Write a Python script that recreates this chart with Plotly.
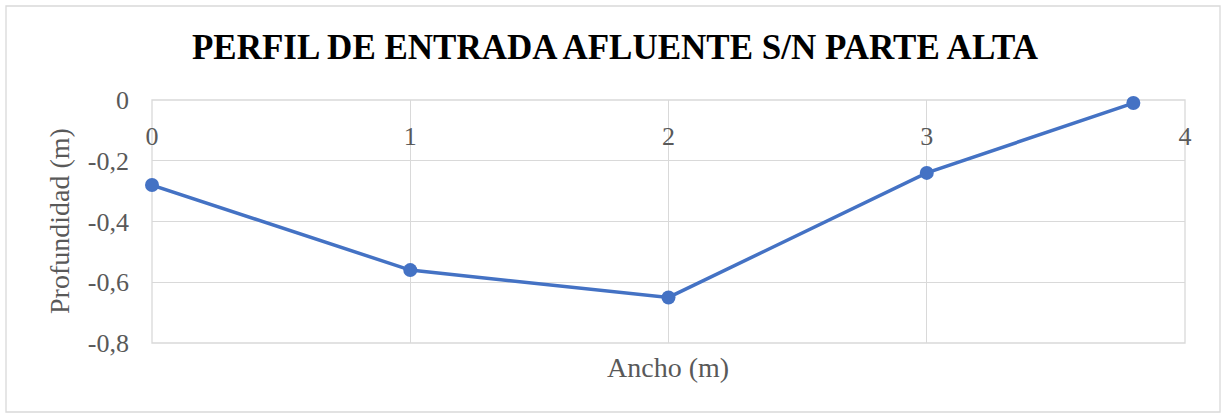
import plotly.graph_objects as go

# Perfil transversal: ancho (m) vs profundidad (m)
ancho = [0, 1, 2, 3, 3.8]
profundidad = [-0.28, -0.56, -0.65, -0.24, -0.01]

x_ticks = [0, 1, 2, 3, 4]
y_ticks = [0, -0.2, -0.4, -0.6, -0.8]
y_tick_labels = ["0", "-0,2", "-0,4", "-0,6", "-0,8"]

title_text = "PERFIL DE ENTRADA AFLUENTE S/N PARTE ALTA"
x_title = "Ancho (m)"
y_title = "Profundidad (m)"

serif = "Liberation Serif"
grid = "#d9d9d9"
label_gray = "#595959"
blue = "#4472C4"

# plot area in pixels
L, R, T, B = 152, 1185, 100, 343
W, H = R - L, B - T

fig = go.Figure(
    go.Scatter(
        x=ancho,
        y=profundidad,
        mode="lines+markers",
        line=dict(color=blue, width=3.5),
        marker=dict(color=blue, size=14),
        cliponaxis=False,
        showlegend=False,
    )
)

fig.update_layout(
    width=1222,
    height=413,
    margin=dict(l=L, r=1222 - R, t=T, b=413 - B),
    paper_bgcolor="white",
    plot_bgcolor="white",
    title=dict(
        text=title_text,
        font=dict(family=serif, size=35, color="black", weight="bold"),
        x=(615 - 0) / 1222,
        xanchor="center",
        y=1 - 47 / 413,
        yanchor="middle",
    ),
    xaxis=dict(
        range=[0, 4],
        tickvals=x_ticks,
        ticktext=[str(v) for v in x_ticks],
        showgrid=True,
        gridcolor=grid,
        gridwidth=1.3,
        zeroline=False,
        showline=False,
        ticks="",
        anchor="free",
        position=0.925,
        side="bottom",
        tickfont=dict(family=serif, size=26, color=label_gray),
    ),
    yaxis=dict(
        range=[-0.8, 0],
        tickvals=y_ticks,
        ticktext=y_tick_labels,
        showgrid=True,
        gridcolor=grid,
        gridwidth=1.3,
        zeroline=False,
        showline=False,
        ticks="",
        ticklabelstandoff=22,
        tickfont=dict(family=serif, size=26, color=label_gray),
    ),
    annotations=[
        dict(
            text=x_title,
            xref="paper",
            yref="paper",
            x=(668 - L) / W,
            y=-(367 - B) / H,
            xanchor="center",
            yanchor="middle",
            showarrow=False,
            font=dict(family=serif, size=28, color=label_gray),
        ),
        dict(
            text=y_title,
            xref="paper",
            yref="paper",
            x=(59 - L) / W,
            y=(B - 221) / H,
            xanchor="center",
            yanchor="middle",
            textangle=-90,
            showarrow=False,
            font=dict(family=serif, size=28, color=label_gray),
        ),
    ],
    shapes=[
        # frame of the plot area
        dict(
            type="rect",
            xref="paper",
            yref="paper",
            x0=0,
            x1=1,
            y0=0,
            y1=1,
            line=dict(color=grid, width=1.3),
            layer="below",
        ),
        # outer chart border
        dict(
            type="rect",
            xref="paper",
            yref="paper",
            x0=(6 - L) / W,
            x1=(1220 - L) / W,
            y0=(B - 412) / H,
            y1=(B - 6) / H,
            line=dict(color=grid, width=1.3),
            layer="below",
        ),
    ],
)

fig.write_html("out.html")
